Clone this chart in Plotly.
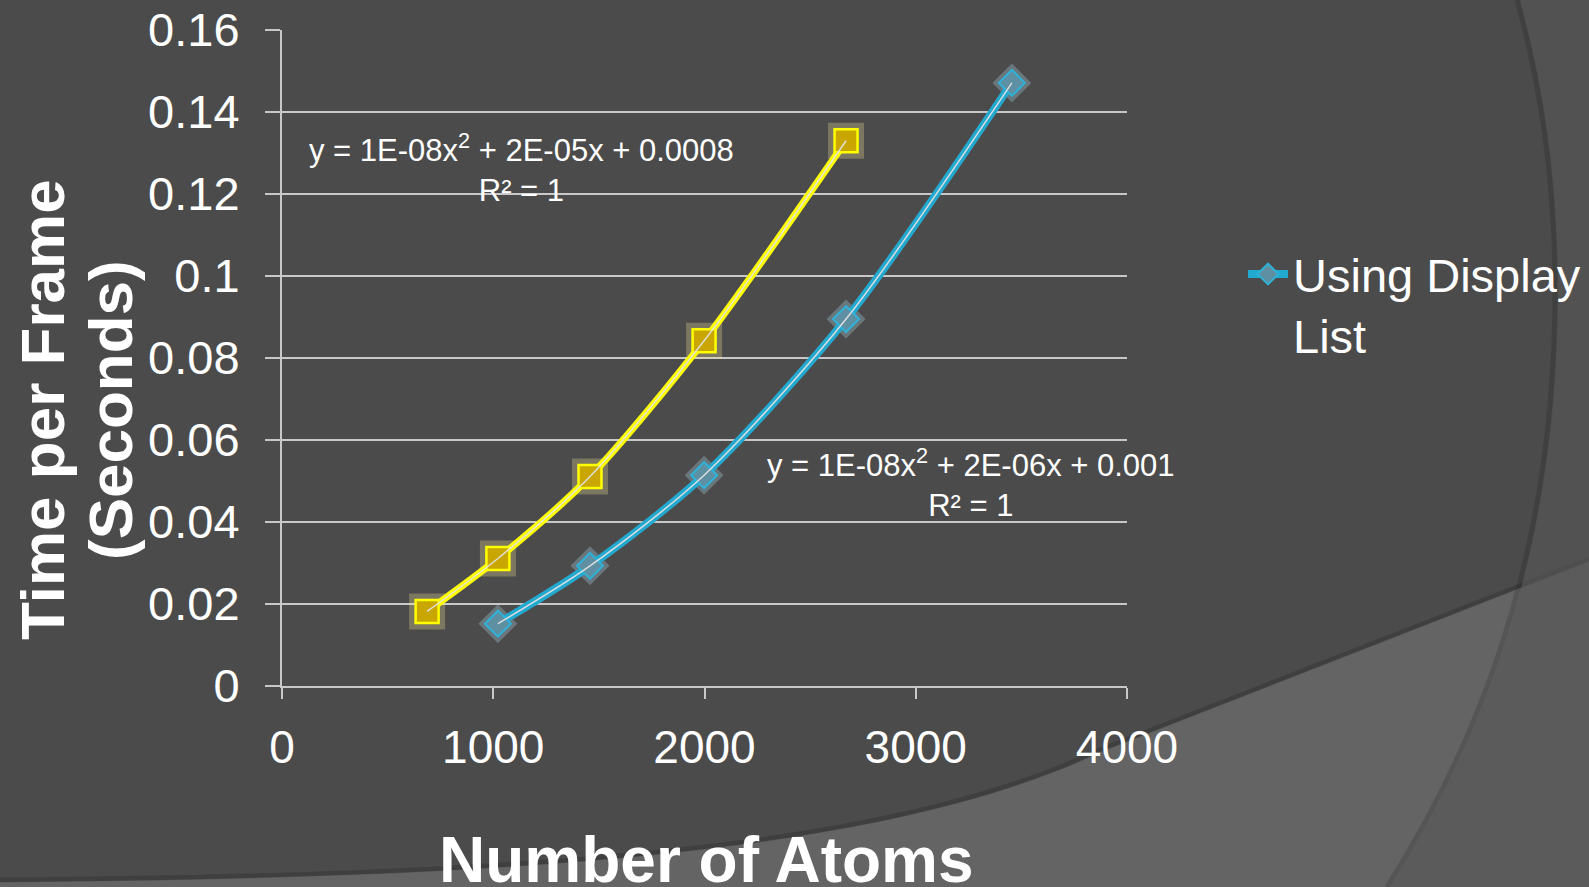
import plotly.graph_objects as go

# ---------------- data ----------------
atoms_immediate = [687, 1022, 1458, 1998, 2670]
time_immediate = [0.0182, 0.0311, 0.0511, 0.0842, 0.1330]

atoms_display_list = [1022, 1458, 1998, 2670, 3455]
time_display_list = [0.0152, 0.0293, 0.0514, 0.0895, 0.1471]

y_tick_vals = [0, 0.02, 0.04, 0.06, 0.08, 0.1, 0.12, 0.14, 0.16]
y_tick_text = ["0", "0.02", "0.04", "0.06", "0.08", "0.1", "0.12", "0.14", "0.16"]
x_tick_vals = [0, 1000, 2000, 3000, 4000]
x_tick_text = ["0", "1000", "2000", "3000", "4000"]

eq_immediate = "y = 1E-08x<sup>2</sup> + 2E-05x + 0.0008<br>R² = 1"
eq_display_list = "y = 1E-08x<sup>2</sup> + 2E-06x + 0.001<br>R² = 1"

x_title = "Number of Atoms"
y_title_lines = ["Time per Frame", "(Seconds)"]
legend_name = "Using Display<br>List"

# ---------------- layout geometry ----------------
W, H = 1589, 887
ML, MR, MT, MB = 282, 462, 30, 201
PW, PH = W - ML - MR, H - MT - MB
FONT = "Liberation Sans, Arial, sans-serif"
GRID = "#c8c8c8"
YELLOW = "#ffff00"
BLUE = "#23a9cf"


def px(x):
    return (x - ML) / PW


def py(y):
    return (MT + PH - y) / PH


def pth(cmds):
    out = []
    for c in cmds:
        if isinstance(c, str):
            out.append(c)
        else:
            out.append(f"{px(c[0]):.5f},{py(c[1]):.5f}")
    return " ".join(out)


fig = go.Figure()

# yellow series (no legend entry)
fig.add_trace(go.Scatter(
    x=atoms_immediate, y=time_immediate, mode="markers", showlegend=False, hoverinfo="skip",
    marker=dict(symbol="square", size=36, color="rgba(250,235,150,0.28)", line=dict(width=0))))
fig.add_trace(go.Scatter(
    x=atoms_immediate, y=time_immediate, mode="lines+markers", name="Immediate Mode",
    showlegend=False,
    line=dict(color=YELLOW, width=7, shape="spline", smoothing=0.8),
    marker=dict(symbol="square", size=23, color="#c9a600", line=dict(color=YELLOW, width=2.5))))
fig.add_trace(go.Scatter(
    x=atoms_immediate, y=time_immediate, mode="lines", showlegend=False, hoverinfo="skip",
    line=dict(color="rgba(225,225,225,0.95)", width=1.5, shape="spline", smoothing=0.8)))

# blue series
fig.add_trace(go.Scatter(
    x=atoms_display_list, y=time_display_list, mode="markers", showlegend=False, hoverinfo="skip",
    marker=dict(symbol="diamond", size=30, color="rgba(150,185,200,0.40)", line=dict(width=0))))
fig.add_trace(go.Scatter(
    x=atoms_display_list, y=time_display_list, mode="lines+markers", name=legend_name,
    line=dict(color=BLUE, width=8, shape="spline", smoothing=0.8),
    marker=dict(symbol="diamond", size=20, color="#5f8fa2", line=dict(color="#2fb2d8", width=2))))
fig.add_trace(go.Scatter(
    x=atoms_display_list, y=time_display_list, mode="lines", showlegend=False, hoverinfo="skip",
    line=dict(color="rgba(225,225,225,0.95)", width=1.5, shape="spline", smoothing=0.8)))

# ---------------- background decoration ----------------
shapes = []
# lighter lower band
shapes.append(dict(
    type="path", xref="paper", yref="paper", layer="below",
    path=pth(["M", (0, 882), "C", (500, 878), (880, 856), (1100, 752),
              "L", (1589, 561), "L", (1589, 887), "L", (0, 887), "Z"]),
    fillcolor="#646464", line=dict(width=0)))
# shadow on the lower arc
shapes.append(dict(
    type="path", xref="paper", yref="paper", layer="below",
    path=pth(["M", (0, 880), "C", (500, 876), (880, 854), (1100, 750), "L", (1589, 559)]),
    line=dict(color="rgba(0,0,0,0.15)", width=5)))
# right band
shapes.append(dict(
    type="path", xref="paper", yref="paper", layer="below",
    path=pth(["M", (1520, 0), "C", (1547, 97), (1558, 193), (1558, 290),
              "C", (1558, 489), (1516, 688), (1390, 887),
              "L", (1589, 887), "L", (1589, 0), "Z"]),
    fillcolor="rgba(86,86,86,0.65)", line=dict(width=0)))
# shadow on the right arc
shapes.append(dict(
    type="path", xref="paper", yref="paper", layer="below",
    path=pth(["M", (1517, 0), "C", (1544, 97), (1555, 193), (1555, 290),
              "C", (1555, 489), (1513, 688), (1387, 887)]),
    line=dict(color="rgba(0,0,0,0.14)", width=5)))

annotations = [
    dict(xref="paper", yref="paper", x=px(521), y=py(168), text=eq_immediate, showarrow=False,
         xanchor="center", yanchor="middle", align="center",
         font=dict(family=FONT, size=31, color="white")),
    dict(xref="paper", yref="paper", x=px(971), y=py(483), text=eq_display_list, showarrow=False,
         xanchor="center", yanchor="middle", align="center",
         font=dict(family=FONT, size=31, color="white")),
    dict(xref="paper", yref="paper", x=px(706), y=py(860), text=x_title, showarrow=False,
         xanchor="center", yanchor="middle",
         font=dict(family=FONT, size=64, color="white", weight="bold")),
    dict(xref="paper", yref="paper", x=px(42), y=py(410), text=y_title_lines[0], showarrow=False,
         xanchor="center", yanchor="middle", textangle=-90,
         font=dict(family=FONT, size=62, color="white", weight="bold")),
    dict(xref="paper", yref="paper", x=px(110), y=py(410), text=y_title_lines[1], showarrow=False,
         xanchor="center", yanchor="middle", textangle=-90,
         font=dict(family=FONT, size=62, color="white", weight="bold")),
]

fig.update_layout(
    width=W, height=H,
    margin=dict(l=ML, r=MR, t=MT, b=MB, pad=0, autoexpand=False),
    paper_bgcolor="#4b4b4b", plot_bgcolor="rgba(0,0,0,0)",
    font=dict(family=FONT, color="white"),
    shapes=shapes, annotations=annotations,
    legend=dict(x=px(1243), y=py(237), xanchor="left", yanchor="top", valign="top",
                font=dict(family=FONT, size=47, color="white"),
                bgcolor="rgba(0,0,0,0)", itemwidth=40),
    hovermode=False,
)
fig.update_xaxes(
    range=[0, 4000], tickvals=x_tick_vals, ticktext=x_tick_text, automargin=False,
    showgrid=False, zeroline=False, showline=True, linecolor=GRID, linewidth=2,
    ticks="outside", ticklen=11, tickwidth=2, tickcolor=GRID, ticklabelstandoff=9,
    tickfont=dict(family=FONT, size=46, color="white"))
fig.update_yaxes(
    range=[0, 0.16], tickvals=y_tick_vals, ticktext=y_tick_text, automargin=False,
    showgrid=True, gridcolor=GRID, gridwidth=1.5, zeroline=False,
    showline=True, linecolor=GRID, linewidth=2,
    ticks="outside", ticklen=15, tickwidth=2, tickcolor=GRID, ticklabelstandoff=16,
    tickfont=dict(family=FONT, size=47, color="white"))

fig.write_html("out.html", config={"displayModeBar": False},
               post_script="document.body.style.margin='0';document.body.style.overflow='hidden';")
